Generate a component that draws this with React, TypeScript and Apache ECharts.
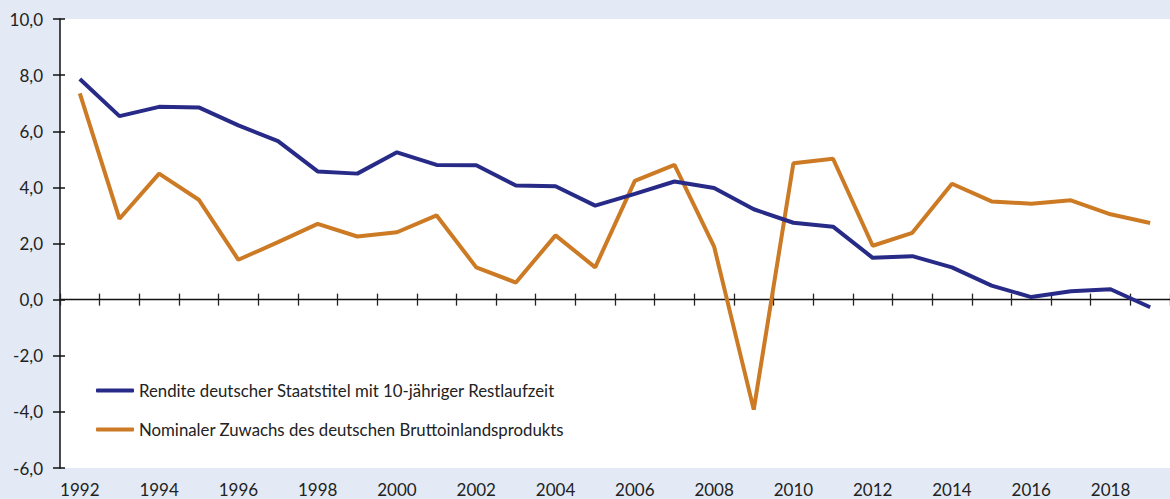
import React, { useEffect, useRef } from "react";
import * as echarts from "echarts";

const years: string[] = [
  "1992", "1993", "1994", "1995", "1996", "1997", "1998", "1999", "2000", "2001",
  "2002", "2003", "2004", "2005", "2006", "2007", "2008", "2009", "2010", "2011",
  "2012", "2013", "2014", "2015", "2016", "2017", "2018", "2019",
];

const rendite: number[] = [
  7.86, 6.54, 6.87, 6.85, 6.21, 5.65, 4.57, 4.49, 5.25, 4.8,
  4.79, 4.07, 4.04, 3.35, 3.77, 4.21, 3.98, 3.22, 2.74, 2.6,
  1.49, 1.55, 1.15, 0.5, 0.09, 0.3, 0.37, -0.27,
];

const bip: number[] = [
  7.35, 2.88, 4.49, 3.56, 1.42, 2.05, 2.7, 2.25, 2.4, 3.0,
  1.15, 0.61, 2.29, 1.15, 4.23, 4.8, 1.89, -3.92, 4.86, 5.02,
  1.92, 2.38, 4.13, 3.5, 3.42, 3.54, 3.04, 2.73,
];

const seriesNames: string[] = [
  "Rendite deutscher Staatstitel mit 10-jähriger Restlaufzeit",
  "Nominaler Zuwachs des deutschen Bruttoinlandsprodukts",
];

const FONT = "Lato, 'Noto Sans', sans-serif";

export default function App() {
  const ref = useRef<HTMLDivElement>(null);
  useEffect(() => {
    if (!ref.current) return;
    const chart = echarts.init(ref.current, undefined, { renderer: "svg" });
    const baseX = {
      type: "category" as const,
      data: years,
      boundaryGap: true,
    };
    chart.setOption({
      animation: false,
      backgroundColor: "#e3eaf6",
      textStyle: { fontFamily: FONT },
      grid: {
        left: 60,
        right: -4,
        top: 19,
        bottom: 31,
        show: true,
        backgroundColor: "#ffffff",
        borderWidth: 0,
        containLabel: false,
      },
      legend: {
        orient: "vertical",
        left: 96,
        top: 382,
        padding: 0,
        itemWidth: 38,
        itemHeight: 4,
        itemGap: 22,
        icon: "roundRect",
        textStyle: { fontFamily: FONT, fontSize: 16.8, color: "#222" },
        data: seriesNames,
      },
      xAxis: [
        {
          ...baseX,
          position: "bottom",
          axisLine: { show: false, onZero: false },
          axisTick: { show: false },
          axisLabel: {
            interval: 1,
            fontSize: 17,
            color: "#222",
            fontFamily: FONT,
            margin: 13,
          },
          splitLine: { show: false },
        },
        {
          ...baseX,
          position: "bottom",
          axisLine: { show: true, onZero: true, lineStyle: { color: "#111", width: 1.3 } },
          axisTick: { show: true, inside: false, length: 6, interval: 0, lineStyle: { color: "#222", width: 1.3 } },
          axisLabel: { show: false },
          splitLine: { show: false },
        },
        {
          ...baseX,
          position: "top",
          axisLine: { show: false, onZero: true },
          axisTick: { show: true, inside: false, length: 6, interval: 0, lineStyle: { color: "#222", width: 1.3 } },
          axisLabel: { show: false },
          splitLine: { show: false },
        },
      ],
      yAxis: [
        {
          type: "value",
          min: -6,
          max: 10,
          interval: 2,
          position: "left",
          axisLine: { show: true, onZero: false, lineStyle: { color: "#111", width: 1.5 } },
          axisTick: { show: true, inside: false, length: 7, lineStyle: { color: "#111", width: 1.5 } },
          axisLabel: {
            fontSize: 17,
            color: "#222",
            fontFamily: FONT,
            margin: 17,
            formatter: (v: number) => v.toFixed(1).replace(".", ","),
          },
          splitLine: { show: false },
        },
        {
          type: "value",
          min: -6,
          max: 10,
          interval: 2,
          position: "left",
          axisLine: { show: false, onZero: false },
          axisTick: { show: true, inside: true, length: 5, lineStyle: { color: "#111", width: 1.5 } },
          axisLabel: { show: false },
          splitLine: { show: false },
        },
      ],
      series: [
        {
          name: seriesNames[0],
          type: "line",
          data: rendite,
          xAxisIndex: 0,
          yAxisIndex: 0,
          symbol: "none",
          lineStyle: { color: "#272b87", width: 4 },
          itemStyle: { color: "#272b87" },
          z: 3,
        },
        {
          name: seriesNames[1],
          type: "line",
          data: bip,
          xAxisIndex: 0,
          yAxisIndex: 0,
          symbol: "none",
          lineStyle: { color: "#cc7a24", width: 4 },
          itemStyle: { color: "#cc7a24" },
          z: 2,
        },
      ],
    });
    return () => chart.dispose();
  }, []);
  return (
    <div
      ref={ref}
      style={{ position: "fixed", left: 0, top: 0, width: 1170, height: 499 }}
    />
  );
}
